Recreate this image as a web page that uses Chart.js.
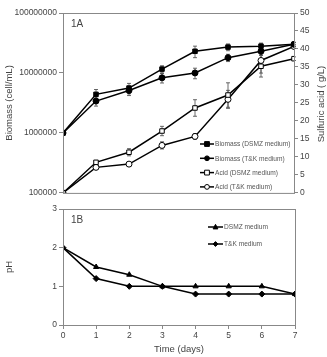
<!DOCTYPE html>
<html>
<head>
<meta charset="utf-8">
<script src="https://cdn.jsdelivr.net/npm/chart.js@4/dist/chart.umd.min.js"></script>
<style>
  html, body { margin: 0; padding: 0; background: #fff; }
  #wrap { position: relative; width: 327px; height: 357px; }
  .panel { position: absolute; left: 0; width: 327px; }
  #topPanel { top: 0; height: 200px; }
  #botPanel { top: 200px; height: 157px; }
</style>
</head>
<body>
<div id="wrap">
  <div class="panel" id="topPanel"><canvas id="chart-top"></canvas></div>
  <div class="panel" id="botPanel"><canvas id="chart-bot"></canvas></div>
</div>
<script>
/* Fig 1A: biomass (log, left) + sulfuric acid (right) vs time.
 * Fig 1B: pH vs time. Two stacked Chart.js charts sharing the x range. */

const days = [0, 1, 2, 3, 4, 5, 6, 7];

const biomassDsmz = [1.0e6, 4.4e6, 5.6e6, 1.16e7, 2.3e7, 2.7e7, 2.8e7, 3.0e7];
const biomassDsmzErr = [0, 0.9e6, 1.1e6, 1.6e6, 5.0e6, 3.5e6, 3.5e6, 2.5e6];
const biomassTk = [1.0e6, 3.4e6, 5.1e6, 8.3e6, 1.0e7, 1.8e7, 2.3e7, 3.0e7];
const biomassTkErr = [0, 0.6e6, 0.9e6, 1.5e6, 2.0e6, 2.5e6, 3.0e6, 2.0e6];

const acidDsmz = [0, 8.5, 11.3, 17.2, 23.6, 27.2, 35.2, 37.3];
const acidDsmzErr = [0, 0.5, 1.0, 1.3, 2.3, 3.4, 3.0, 0.5];
const acidTk = [0, 7.1, 8.0, 13.2, 15.7, 26.0, 36.8, 40.7];
const acidTkErr = [0, 0.4, 0.6, 1.0, 0.8, 2.5, 3.5, 0.5];

const phDsmz = [2.0, 1.5, 1.3, 1.0, 1.0, 1.0, 1.0, 0.8];
const phTk = [2.0, 1.2, 1.0, 1.0, 0.8, 0.8, 0.8, 0.8];

const biomassTicks = [1e5, 1e6, 1e7, 1e8];

const FONT = "'Liberation Sans', Arial, sans-serif";
const AXIS_GRAY = "#888";
const TEXT = "#444";

const pts = (ys) => ys.map((y, i) => ({ x: days[i], y }));

// small marker painter shared by the legends
function drawMarker(ctx, style, x, y, r, fill) {
  ctx.save();
  ctx.fillStyle = fill;
  ctx.strokeStyle = "#000";
  ctx.lineWidth = 1;
  ctx.beginPath();
  if (style === "rect") {
    ctx.rect(x - r, y - r, 2 * r, 2 * r);
  } else if (style === "triangle") {
    ctx.moveTo(x, y - r * 1.1);
    ctx.lineTo(x + r, y + r * 0.8);
    ctx.lineTo(x - r, y + r * 0.8);
    ctx.closePath();
  } else if (style === "rectRot") {
    ctx.moveTo(x, y - r);
    ctx.lineTo(x + r, y);
    ctx.lineTo(x, y + r);
    ctx.lineTo(x - r, y);
    ctx.closePath();
  } else {
    ctx.arc(x, y, r, 0, Math.PI * 2);
  }
  ctx.fill();
  ctx.stroke();
  ctx.restore();
}

function series(label, data, style, fill, yAxisID, errors) {
  return {
    label,
    data: pts(data),
    errors,
    yAxisID,
    borderColor: "#000",
    borderWidth: 1.5,
    pointStyle: style,
    pointRadius: style === "rect" ? 3.2 : 3,
    pointBackgroundColor: fill,
    pointBorderColor: "#000",
    pointBorderWidth: 1,
    tension: 0,
    fill: false,
  };
}

// vertical error bars with caps, drawn under the markers
const errorBars = {
  id: "errorBars",
  beforeDatasetsDraw(chart) {
    const ctx = chart.ctx;
    const xs = chart.scales.x;
    ctx.save();
    ctx.strokeStyle = "#444";
    ctx.lineWidth = 0.8;
    chart.data.datasets.forEach((ds) => {
      if (!ds.errors) return;
      const ys = chart.scales[ds.yAxisID];
      ds.data.forEach((p, i) => {
        const e = ds.errors[i];
        if (!e) return;
        const x = xs.getPixelForValue(p.x);
        const lo = ys.getPixelForValue(p.y - e);
        const hi = ys.getPixelForValue(p.y + e);
        ctx.beginPath();
        ctx.moveTo(x, lo); ctx.lineTo(x, hi);
        ctx.moveTo(x - 2, lo); ctx.lineTo(x + 2, lo);
        ctx.moveTo(x - 2, hi); ctx.lineTo(x + 2, hi);
        ctx.stroke();
      });
    });
    ctx.restore();
  },
};

// frame round the plot area, panel tag, custom line+marker legend, extra titles
const decor = {
  id: "decor",
  afterDraw(chart, args, opts) {
    const ctx = chart.ctx;
    const a = chart.chartArea;
    ctx.save();
    ctx.strokeStyle = AXIS_GRAY;
    ctx.lineWidth = 1;
    ctx.strokeRect(a.left + 0.5, a.top + 0.5, a.right - a.left, a.bottom - a.top);

    ctx.fillStyle = TEXT;
    ctx.font = "10px " + FONT;
    ctx.textBaseline = "middle";
    ctx.textAlign = "left";
    ctx.fillText(opts.tag, a.left + 8, a.top + 11);

    const lg = opts.legend;
    ctx.font = "6.6px " + FONT;
    chart.data.datasets.forEach((ds, i) => {
      const y = lg.y0 + i * lg.dy;
      ctx.strokeStyle = "#000";
      ctx.lineWidth = 1.5;
      ctx.beginPath();
      ctx.moveTo(lg.x, y);
      ctx.lineTo(lg.x + lg.w, y);
      ctx.stroke();
      drawMarker(ctx, ds.pointStyle, lg.x + lg.w / 2, y, 2.4, ds.pointBackgroundColor);
      ctx.fillStyle = "#555";
      ctx.fillText(ds.label, lg.x + lg.w + 1, y + 0.5);
    });

    if (opts.rightTitle) {
      ctx.translate(opts.rightTitle.x, opts.rightTitle.y);
      ctx.rotate(-Math.PI / 2);
      ctx.textAlign = "center";
      ctx.fillStyle = TEXT;
      ctx.font = "9.5px " + FONT;
      ctx.fillText(opts.rightTitle.text, 0, 0);
    }
    ctx.restore();
  },
};

const tickFont = { family: FONT, size: 8.5 };
const titleFont = { family: FONT, size: 9.5 };

function axisBase() {
  return {
    border: { color: AXIS_GRAY },
    grid: { drawOnChartArea: false, color: AXIS_GRAY, tickLength: 4 },
    ticks: { font: tickFont, color: TEXT, padding: 2 },
  };
}

function topOptions() {
  const left = axisBase();
  Object.assign(left, {
    type: "logarithmic",
    position: "left",
    min: 1e5,
    max: 1e8,
    afterBuildTicks: (s) => { s.ticks = biomassTicks.map((v) => ({ value: v })); },
    afterFit: (s) => { s.width = 63; },
    title: { display: true, text: "Biomass (cell/mL)", font: titleFont, color: TEXT, padding: { top: 4, bottom: 0 } },
  });
  left.ticks = Object.assign(left.ticks, { callback: (v) => Number(v).toFixed(0), autoSkip: false });

  const right = axisBase();
  Object.assign(right, {
    type: "linear",
    position: "right",
    min: 0,
    max: 50,
    afterFit: (s) => { s.width = 33; },
  });
  right.ticks = Object.assign(right.ticks, { stepSize: 5 });

  return {
    responsive: true,
    maintainAspectRatio: false,
    animation: false,
    layout: { padding: { top: 13, bottom: 5, left: 0, right: 0 } },
    scales: {
      x: { type: "linear", min: 0, max: 7, display: false },
      y: left,
      y1: right,
    },
    plugins: {
      legend: { display: false },
      tooltip: { enabled: false },
      decor: {
        tag: "1A",
        legend: { x: 200, y0: 144, dy: 14.3, w: 14 },
        rightTitle: { text: "Sulfuric acid ( g/L)", x: 321, y: 104 },
      },
    },
  };
}

function botOptions() {
  const x = axisBase();
  Object.assign(x, {
    type: "linear",
    min: 0,
    max: 7,
    afterFit: (s) => { s.height = 32; },
    title: { display: true, text: "Time (days)", font: titleFont, color: TEXT, padding: { top: 2, bottom: 2 } },
  });
  x.ticks = Object.assign(x.ticks, { stepSize: 1 });

  const y = axisBase();
  Object.assign(y, {
    type: "linear",
    min: 0,
    max: 3,
    afterFit: (s) => { s.width = 63; },
    title: { display: true, text: "pH", font: titleFont, color: TEXT, padding: { top: 4, bottom: 0 } },
  });
  y.ticks = Object.assign(y.ticks, { stepSize: 1 });

  return {
    responsive: true,
    maintainAspectRatio: false,
    animation: false,
    layout: { padding: { top: 9, bottom: 0, left: 0, right: 32 } },
    scales: { x, y },
    plugins: {
      legend: { display: false },
      tooltip: { enabled: false },
      decor: {
        tag: "1B",
        legend: { x: 208, y0: 27, dy: 17, w: 15 },
      },
    },
  };
}

new Chart(document.getElementById("chart-top"), {
  type: "line",
  data: {
    datasets: [
      series("Biomass (DSMZ medium)", biomassDsmz, "rect", "#000", "y", biomassDsmzErr),
      series("Biomass (T&K medium)", biomassTk, "circle", "#000", "y", biomassTkErr),
      series("Acid (DSMZ medium)", acidDsmz, "rect", "#fff", "y1", acidDsmzErr),
      series("Acid (T&K medium)", acidTk, "circle", "#fff", "y1", acidTkErr),
    ],
  },
  options: topOptions(),
  plugins: [errorBars, decor],
});

new Chart(document.getElementById("chart-bot"), {
  type: "line",
  data: {
    datasets: [
      series("DSMZ medium", phDsmz, "triangle", "#000", "y", null),
      series("T&K medium", phTk, "rectRot", "#000", "y", null),
    ],
  },
  options: botOptions(),
  plugins: [errorBars, decor],
});
</script>
</body>
</html>
